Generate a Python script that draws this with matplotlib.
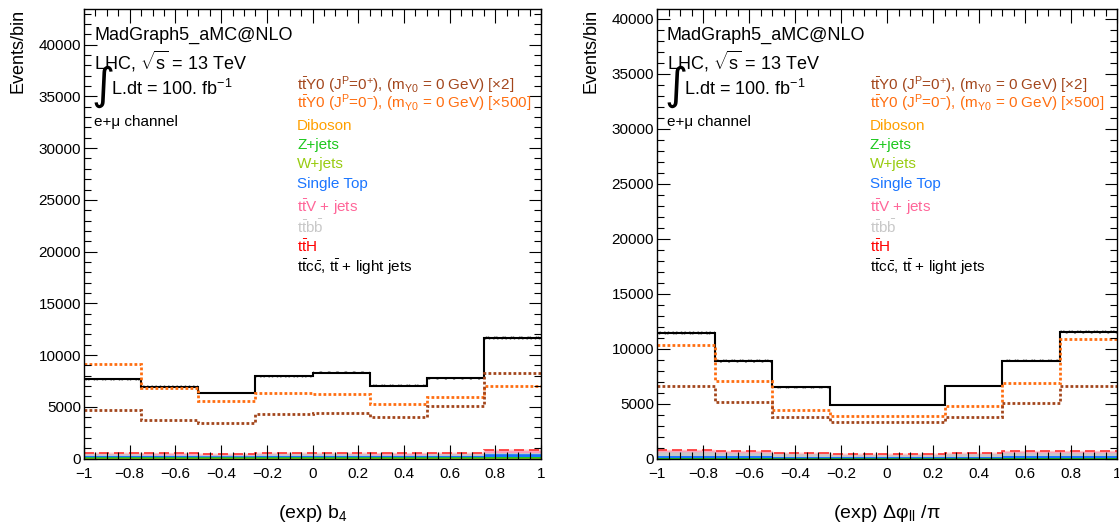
import matplotlib
matplotlib.use("Agg")
import matplotlib.pyplot as plt
from matplotlib.ticker import MultipleLocator
import numpy as np

plt.rcParams['font.family'] = ['Liberation Sans', 'DejaVu Sans']
plt.rcParams['mathtext.fontset'] = 'custom'
plt.rcParams['mathtext.rm'] = 'Liberation Sans'
plt.rcParams['mathtext.it'] = 'Liberation Sans:italic'
plt.rcParams['mathtext.bf'] = 'Liberation Sans:bold'
plt.rcParams['hatch.linewidth'] = 0.6

# ---- data (8 bins from -1 to 1) ----
bin_edges = [-1.0, -0.75, -0.5, -0.25, 0.0, 0.25, 0.5, 0.75, 1.0]

# panel 1: (exp) b4
diboson_b4 = [25, 25, 20, 25, 25, 20, 25, 30]
wjets_b4 = [40, 35, 30, 40, 40, 35, 40, 45]
zjets_b4 = [60, 55, 50, 60, 60, 55, 60, 70]
singletop_b4 = [120, 110, 100, 120, 125, 110, 120, 280]
ttbb_b4 = [200, 190, 170, 210, 210, 190, 200, 120]
ttv_b4 = [60, 55, 50, 60, 65, 55, 60, 230]
tth_b4 = [40, 40, 35, 45, 45, 40, 45, 60]
ttlight_b4 = [7105, 6420, 5885, 7400, 7740, 6515, 7220, 10845]
unc_b4 = [150, 140, 130, 150, 160, 140, 150, 200]
sig_even_b4 = [4670, 3700, 3385, 4255, 4350, 3965, 5060, 8220]   # 0+ x2
sig_odd_b4 = [9120, 6770, 5570, 6285, 6190, 5220, 5900, 7020]    # 0- x500

# panel 2: (exp) dphi_ll / pi
diboson_dphi = [25, 25, 20, 20, 20, 20, 25, 25]
wjets_dphi = [40, 35, 30, 25, 25, 30, 35, 40]
zjets_dphi = [70, 65, 50, 40, 40, 50, 65, 70]
singletop_dphi = [130, 120, 100, 80, 80, 100, 120, 130]
ttbb_dphi = [400, 330, 260, 200, 200, 260, 330, 320]
ttv_dphi = [90, 80, 60, 50, 50, 60, 80, 90]
tth_dphi = [60, 55, 40, 35, 35, 40, 55, 55]
ttlight_dphi = [10665, 8190, 5960, 4460, 4460, 6080, 8230, 10820]
unc_dphi = [180, 160, 130, 110, 110, 130, 160, 180]
sig_even_dphi = [6640, 5150, 3790, 3330, 3330, 3790, 5120, 6640]
sig_odd_dphi = [10390, 7060, 4450, 3910, 3910, 4820, 6880, 10880]

xtick_vals = [-1, -0.8, -0.6, -0.4, -0.2, 0, 0.2, 0.4, 0.6, 0.8, 1]
xtick_labels = ["\u22121", "\u22120.8", "\u22120.6", "\u22120.4", "\u22120.2", "0",
                "0.2", "0.4", "0.6", "0.8", "1"]

col_even = '#a3461c'
col_odd = '#ff6e10'
legend_items = [
    (r"$\mathrm{t\bar{t}}$Y0 (J$^{\mathrm{P}}$=0$^{+}$), (m$_{\mathrm{Y0}}$ = 0 GeV) [×2]", col_even, 85),
    (r"$\mathrm{t\bar{t}}$Y0 (J$^{\mathrm{P}}$=0$^{-}$), (m$_{\mathrm{Y0}}$ = 0 GeV) [×500]", col_odd, 103),
    ("Diboson", '#ffa000', 126),
    ("Z+jets", '#1ec81e', 145),
    ("W+jets", '#99cc11', 164),
    ("Single Top", '#1a75ff', 184),
    (r"$\mathrm{t\bar{t}}$V + jets", '#ff6699', 207),
    (r"$\mathrm{t\bar{t}b\bar{b}}$", '#c8c8c8', 227),
    (r"$\mathrm{t\bar{t}}$H", '#ff0000', 247),
    (r"$\mathrm{t\bar{t}c\bar{c}}$, $\mathrm{t\bar{t}}$ + light jets", 'black', 267),
]

W, H = 1119, 530
fig = plt.figure(figsize=(W / 100, H / 100), dpi=100)


def put(px, py, s, **kw):
    kw.setdefault('ha', 'left')
    kw.setdefault('va', 'center')
    fig.text(px / W, 1 - py / H, s, **kw)


def draw_panel(x0, x1, y0, ymax, bgs, ttlight, unc, sig_even, sig_odd, xlabel):
    ax = fig.add_axes([x0 / W, (H - y0) / H, (x1 - x0) / W, (y0 - 9) / H])
    edges = np.array(bin_edges)
    base = np.zeros(len(ttlight))
    for vals, col in bgs:
        top = base + np.array(vals)
        ax.stairs(top, edges, baseline=base, fill=True, color=col, lw=0)
        ax.stairs(top, edges, baseline=None, color=col, lw=1.0)
        base = top
    # ttH as red dashed line on top of the background stack
    ax.stairs(base, edges, baseline=None, color='#ff3030', lw=1.2, ls=(0, (6, 3)))
    total = base + np.array(ttlight)
    ax.stairs(total + np.array(unc), edges, baseline=total - np.array(unc), fill=True,
              facecolor='none', edgecolor='#999999', hatch='xxxx', lw=0)
    ax.stairs(total, edges, baseline=None, color='black', lw=1.5)
    ax.stairs(sig_odd, edges, baseline=None, color=col_odd, lw=2.0, ls=(0, (1, 0.8)))
    ax.stairs(sig_even, edges, baseline=None, color=col_even, lw=2.0, ls=(0, (1, 0.8)))

    ax.set_xlim(-1, 1)
    ax.set_ylim(0, ymax)
    ax.set_xticks(xtick_vals)
    ax.set_xticklabels(xtick_labels)
    ax.xaxis.set_minor_locator(MultipleLocator(0.05))
    ax.yaxis.set_major_locator(MultipleLocator(5000))
    ax.yaxis.set_minor_locator(MultipleLocator(1000))
    ax.tick_params(which='both', direction='in', top=True, right=True, width=0.8, labelsize=11)
    ax.tick_params(axis='x', which='major', length=10, pad=6)
    ax.tick_params(axis='x', which='minor', length=5)
    ax.tick_params(axis='y', which='major', length=9, pad=2)
    ax.tick_params(axis='y', which='minor', length=5)
    for sp in ax.spines.values():
        sp.set_linewidth(1.0)

    put(x0 + 10, 35, "MadGraph5_aMC@NLO", fontsize=13)
    put(x0 + 10, 61, r"LHC, $\sqrt{\mathrm{s}}$ = 13 TeV", fontsize=13)
    put(x0 + 7, 86, "\u222b", fontsize=32, family='DejaVu Sans')
    put(x0 + 27, 89, "L.dt = 100. fb$^{-1}$", fontsize=13)
    put(x0 + 10, 122, "e+\u03bc channel", fontsize=11)
    for text, col, yy in legend_items:
        put(x0 + 213, yy, text, fontsize=11, color=col)
    put(x0 - 66, 9, "Events/bin", fontsize=13, rotation=90, ha='center', va='top')
    put((x0 + x1) / 2, 513, xlabel, fontsize=14, ha='center')
    return ax


bgs_b4 = [(diboson_b4, '#ffa000'), (wjets_b4, '#99cc11'), (zjets_b4, '#1ec81e'),
          (singletop_b4, '#1a75ff'), (ttbb_b4, '#c8c8c8'), (ttv_b4, '#ff99bb'),
          (tth_b4, '#ffc8c8')]
bgs_dphi = [(diboson_dphi, '#ffa000'), (wjets_dphi, '#99cc11'), (zjets_dphi, '#1ec81e'),
            (singletop_dphi, '#1a75ff'), (ttbb_dphi, '#c8c8c8'), (ttv_dphi, '#ff99bb'),
            (tth_dphi, '#ffc8c8')]

draw_panel(84, 541, 458.5, 43450, bgs_b4, ttlight_b4, unc_b4, sig_even_b4, sig_odd_b4,
           "(exp) b$_{4}$")
draw_panel(657, 1117, 459, 40900, bgs_dphi, ttlight_dphi, unc_dphi, sig_even_dphi, sig_odd_dphi,
           "(exp) \u0394\u03c6$_{\\mathrm{ll}}$ /\u03c0")

fig.savefig("out.png", dpi=100)
